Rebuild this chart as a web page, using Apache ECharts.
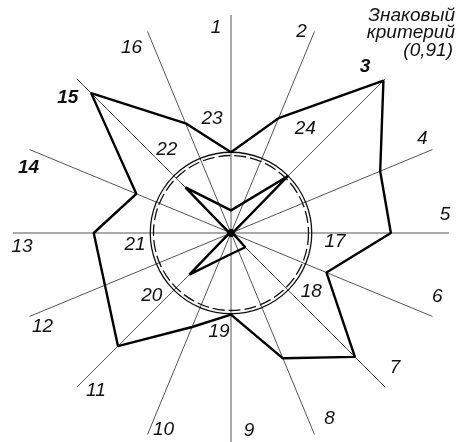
<!DOCTYPE html>
<html>
<head>
<meta charset="utf-8">
<script src="https://cdn.jsdelivr.net/npm/echarts@6/dist/echarts.min.js"></script>
<style>
  html, body { margin: 0; padding: 0; background: #fff; }
  #chart { width: 466px; height: 442px; }
</style>
</head>
<body>
<div id="chart"></div>
<script>
// Rays 1–16, clockwise from the top, 22.5° apart; values in units of the reference circle
const rayNames = ['1', '2', '3', '4', '5', '6', '7', '8', '9', '10', '11', '12', '13', '14', '15', '16'];
const rayValues = [1.00, 1.54, 2.67, 2.00, 1.98, 1.28, 2.17, 1.68, 1.01, 1.26, 1.98, 1.69, 1.70, 1.27, 2.45, 1.47];

// Indices 17–24 on every second ray, starting from ray 5
const innerNames = ['17', '18', '19', '20', '21', '22', '23', '24'];
const innerValues = [0.02, 0.25, 0.26, 0.73, 0.02, 0.80, 0.28, 1.00];

// Reference circles: solid and dashed
const ringValues = [1.00, 0.96];
const ringDashed = [false, true];

const titleLines = ['Знаковый', 'критерий', '(0,91)'];

// Layout / style settings
const RADIUS_MAX = 2.7;
const RAY_STEP = 360 / rayNames.length;
const INNER_START = 90;
const INNER_STEP = 45;
const rayLabelOffsets = [
  [-15, 13], [-13, 0], [-20, -12], [-10, -11], [-4, -18], [5, -20], [10, -19], [15, -16],
  [18, -20], [16, -5], [19, 4], [13, 10], [9, 14], [-1, 18], [-9, 19], [-16, 16]
];
const boldRays = ['3', '14', '15'];
const INNER_LABEL_R = 1.3;
const innerLabelOffsets = [[-1, 9], [6, -16], [-12, -6], [-5, -12], [9, 12], [10, -9], [-19, -9], [0, -30]];
const titleTops = [6, 23, 41];
const titleRights = [11, 11, 13];

const FONT = "'Liberation Sans', 'DejaVu Sans', sans-serif";
const INK = '#111';

const rayAngle = i => i * RAY_STEP;
const innerAngle = i => (INNER_START + i * INNER_STEP) % 360;

const outerData = rayValues.map((v, i) => [v, rayAngle(i)]);
outerData.push([rayValues[0], 360]);
const innerData = innerValues.map((v, i) => [v, innerAngle(i)]);
innerData.push([innerValues[0], innerAngle(0)]);

const rayLabelData = rayNames.map((n, i) => ({
  name: n,
  value: [RADIUS_MAX, rayAngle(i)],
  label: { offset: rayLabelOffsets[i], fontWeight: boldRays.includes(n) ? 'bold' : 'normal' }
}));
const innerLabelData = innerNames.map((n, i) => ({
  name: n,
  value: [INNER_LABEL_R, innerAngle(i)],
  label: { offset: innerLabelOffsets[i] }
}));

const labelStyle = {
  show: true,
  position: 'inside',
  formatter: p => p.name,
  fontFamily: FONT,
  fontStyle: 'italic',
  fontSize: 19,
  color: INK,
  opacity: 1
};

const chart = echarts.init(document.getElementById('chart'), null, { renderer: 'canvas' });
chart.setOption({
  backgroundColor: '#fff',
  animation: false,
  polar: { center: [231, 233], radius: 218 },
  angleAxis: {
    type: 'value', min: 0, max: 360, interval: RAY_STEP,
    startAngle: 90, clockwise: true,
    axisLine: { show: false }, axisTick: { show: false }, axisLabel: { show: false },
    splitLine: { show: true, lineStyle: { color: '#2a2a2a', width: 0.8 } }
  },
  radiusAxis: {
    type: 'value', min: 0, max: RADIUS_MAX,
    axisLine: { show: false }, axisTick: { show: false }, axisLabel: { show: false },
    splitLine: { show: false }
  },
  graphic: titleLines.map((t, i) => ({
    type: 'text', right: titleRights[i], top: titleTops[i],
    style: { text: t, font: 'italic 19px ' + FONT, fill: INK }
  })),
  series: [
    {
      type: 'custom', coordinateSystem: 'polar', silent: true,
      data: ringValues.map((v, i) => [v, 0, ringDashed[i] ? 1 : 0]),
      renderItem: (params, api) => {
        const cs = params.coordSys;
        const p = api.coord([api.value(0), 0]);
        const r = Math.hypot(p[0] - cs.cx, p[1] - cs.cy);
        return {
          type: 'circle',
          shape: { cx: cs.cx, cy: cs.cy, r: r },
          style: {
            fill: 'none', stroke: INK, lineWidth: 1.3,
            lineDash: api.value(2) ? [12, 4] : null
          }
        };
      }
    },
    {
      type: 'line', coordinateSystem: 'polar', data: outerData,
      symbol: 'none', lineStyle: { color: '#000', width: 2.4 }, z: 5
    },
    {
      type: 'line', coordinateSystem: 'polar', data: innerData,
      symbol: 'none', lineStyle: { color: '#000', width: 2.4 }, z: 5
    },
    {
      type: 'scatter', coordinateSystem: 'polar', data: [[0, 0]],
      symbolSize: 8, itemStyle: { color: '#000', opacity: 1 }, z: 6
    },
    {
      type: 'scatter', coordinateSystem: 'polar', data: rayLabelData,
      symbolSize: 0, itemStyle: { color: INK, opacity: 1 }, label: labelStyle, z: 7
    },
    {
      type: 'scatter', coordinateSystem: 'polar', data: innerLabelData,
      symbolSize: 0, itemStyle: { color: INK, opacity: 1 }, label: labelStyle, z: 7
    }
  ]
});
</script>
</body>
</html>
